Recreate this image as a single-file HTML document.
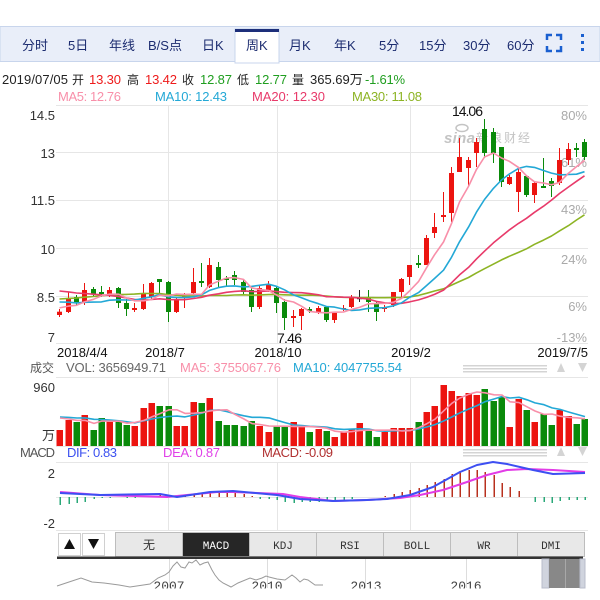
<!DOCTYPE html>
<html><head><meta charset="utf-8">
<style>
html,body{margin:0;padding:0;background:#fff;width:600px;height:600px;overflow:hidden}
svg{display:block}
text{font-family:"Liberation Sans","Noto Sans CJK SC",sans-serif}
.mono{font-family:"Liberation Mono","Noto Sans CJK SC",monospace}
</style></head><body>
<svg id="s" width="600" height="600" viewBox="0 0 600 600" xmlns="http://www.w3.org/2000/svg">
<!-- Tab bar -->
<rect x="0" y="26.5" width="600" height="35" fill="#e9eef9" stroke="#c8d5ec" stroke-width="1"/>
<rect x="235" y="29" width="44" height="34" fill="#ffffff" stroke="#c8d5ec" stroke-width="1"/>
<rect x="235" y="29" width="44" height="3" fill="#1d2f7a"/>
<g font-size="13" fill="#1c2c70">
<text x="22" y="50">分时</text>
<text x="68" y="50">5日</text>
<text x="109" y="50">年线</text>
<text x="148" y="50">B/S点</text>
<text x="202" y="50">日K</text>
<text x="246" y="50">周K</text>
<text x="289" y="50">月K</text>
<text x="334" y="50">年K</text>
<text x="379" y="50">5分</text>
<text x="419" y="50">15分</text>
<text x="463" y="50">30分</text>
<text x="507" y="50">60分</text>
</g>
<g stroke="#1a5fd0" stroke-width="2.5" fill="none">
<polyline points="547,40 547,35 552,35"/>
<polyline points="556,35 561,35 561,40"/>
<polyline points="547,46 547,51 552,51"/>
<polyline points="556,51 561,51 561,46"/>
</g>
<g fill="#1a5fd0"><rect x="581" y="34" width="3" height="3"/><rect x="581" y="41" width="3" height="3"/><rect x="581" y="48" width="3" height="3"/></g>

<!-- info line -->
<g font-size="13">
<text x="2" y="84" fill="#222" textLength="66">2019/07/05</text>
<text x="72" y="84" fill="#222" font-size="12">开</text>
<text x="89" y="84" fill="#ee1b1b" textLength="32">13.30</text>
<text x="127" y="84" fill="#222" font-size="12">高</text>
<text x="145" y="84" fill="#ee1b1b" textLength="32">13.42</text>
<text x="182" y="84" fill="#222" font-size="12">收</text>
<text x="200" y="84" fill="#1f9e1f" textLength="32">12.87</text>
<text x="237" y="84" fill="#222" font-size="12">低</text>
<text x="255" y="84" fill="#1f9e1f" textLength="32">12.77</text>
<text x="292" y="84" fill="#222" font-size="12">量</text>
<text x="310" y="84" fill="#222">365.69万</text>
<text x="365" y="84" fill="#1f9e1f" textLength="40">-1.61%</text>
</g>
<g font-size="13">
<text x="58" y="101" fill="#f88fa9" textLength="63">MA5: 12.76</text>
<text x="155" y="101" fill="#23a8d6" textLength="72">MA10: 12.43</text>
<text x="252" y="101" fill="#e83a6a" textLength="73">MA20: 12.30</text>
<text x="352" y="101" fill="#8db424" textLength="70">MA30: 11.08</text>
</g>

<!-- main grid -->
<g stroke="#e6e6e6" stroke-width="1">
<line x1="56" y1="105.5" x2="588" y2="105.5"/>
<line x1="56" y1="152.5" x2="588" y2="152.5"/>
<line x1="56" y1="200.5" x2="588" y2="200.5"/>
<line x1="56" y1="248.5" x2="588" y2="248.5"/>
<line x1="56" y1="296.5" x2="588" y2="296.5"/>
<line x1="56" y1="343.5" x2="588" y2="343.5"/>
<line x1="168.5" y1="105" x2="168.5" y2="343"/>
<line x1="277.5" y1="105" x2="277.5" y2="343"/>
<line x1="410.5" y1="105" x2="410.5" y2="343"/>
<line x1="56" y1="377.5" x2="588" y2="377.5"/>
<line x1="56" y1="446.5" x2="588" y2="446.5"/>
<line x1="168.5" y1="378" x2="168.5" y2="446"/>
<line x1="277.5" y1="378" x2="277.5" y2="446"/>
<line x1="410.5" y1="378" x2="410.5" y2="446"/>
<line x1="56" y1="462.5" x2="588" y2="462.5"/>
<line x1="56" y1="497.5" x2="588" y2="497.5"/>
<line x1="56" y1="530.5" x2="588" y2="530.5"/>
<line x1="168.5" y1="462" x2="168.5" y2="530"/>
<line x1="277.5" y1="462" x2="277.5" y2="530"/>
<line x1="410.5" y1="462" x2="410.5" y2="530"/>
</g>
<g font-size="13" fill="#333" text-anchor="end">
<text x="55" y="120">14.5</text>
<text x="55" y="158">13</text>
<text x="55" y="205">11.5</text>
<text x="55" y="254">10</text>
<text x="55" y="302">8.5</text>
<text x="55" y="342">7</text>
</g>
<g font-size="13" fill="#aaaaaa" text-anchor="end">
<text x="587" y="120">80%</text>
<text x="587" y="167">61%</text>
<text x="587" y="214">43%</text>
<text x="587" y="264">24%</text>
<text x="587" y="311">6%</text>
<text x="587" y="342">-13%</text>
</g>
<!-- watermark -->
<g fill="#c4c4c4">
<ellipse cx="462" cy="128" rx="6" ry="3.5" fill="none" stroke="#c4c4c4" stroke-width="1.5"/>
<text x="444" y="143" font-size="15" font-weight="bold" font-style="italic" textLength="31">sina</text>
<text x="476" y="142" font-size="12" textLength="54">新浪财经</text>
</g>
<g id="main"></g>
<text x="452" y="116" font-size="14" fill="#111" textLength="31">14.06</text>
<text x="277" y="343" font-size="14" fill="#111" textLength="25">7.46</text>

<!-- dates -->
<g font-size="13" fill="#111">
<text x="57" y="357">2018/4/4</text>
<text x="165" y="357" text-anchor="middle">2018/7</text>
<text x="278" y="357" text-anchor="middle">2018/10</text>
<text x="411" y="357" text-anchor="middle">2019/2</text>
<text x="588" y="357" text-anchor="end">2019/7/5</text>
</g>

<!-- VOL row -->
<g font-size="13">
<text x="30" y="372" fill="#555" font-size="12">成交</text>
<text x="66" y="372" fill="#666" textLength="100">VOL: 3656949.71</text>
<text x="180" y="372" fill="#f88fa9" textLength="101">MA5: 3755067.76</text>
<text x="293" y="372" fill="#23a8d6" textLength="109">MA10: 4047755.54</text>
</g>
<g font-size="13" fill="#333" text-anchor="end">
<text x="55" y="392">960</text>
<text x="55" y="440">万</text>
</g>
<g id="vol"></g>
<!-- right arrows -->
<g fill="#d4d4d4">
<rect x="463" y="365" width="84" height="1.5"/><rect x="463" y="368" width="84" height="1.5"/><rect x="463" y="371" width="84" height="1.5"/>
<polygon points="557,372 561,363 565,372"/><polygon points="578,363 587,363 582.5,372"/>
<rect x="463" y="449" width="84" height="1.5"/><rect x="463" y="452" width="84" height="1.5"/><rect x="463" y="455" width="84" height="1.5"/>
<polygon points="557,456 561,447 565,456"/><polygon points="578,447 587,447 582.5,456"/>
</g>

<!-- MACD row -->
<g font-size="13">
<text x="20" y="457" fill="#555" textLength="35">MACD</text>
<text x="67" y="457" fill="#3b50f0" textLength="50">DIF: 0.83</text>
<text x="163" y="457" fill="#e040e8" textLength="57">DEA: 0.87</text>
<text x="262" y="457" fill="#b03030" textLength="71">MACD: -0.09</text>
</g>
<g font-size="13" fill="#333" text-anchor="end">
<text x="55" y="478">2</text>
<text x="55" y="528">-2</text>
</g>
<g id="macd"></g>

<!-- indicator tabs -->
<rect x="58.5" y="533.5" width="22" height="22" fill="#fff" stroke="#d0d0d0"/>
<rect x="82.5" y="533.5" width="22" height="22" fill="#fff" stroke="#d0d0d0"/>
<polygon points="64,549 69.5,539 75,549" fill="#111"/>
<polygon points="88,539 99,539 93.5,549" fill="#111"/>
<g stroke="#bdbdbd" stroke-width="1">
<rect x="115.5" y="532.5" width="67" height="24" fill="#e8e8e8"/>
<rect x="182.5" y="532.5" width="67" height="24" fill="#262626"/>
<rect x="249.5" y="532.5" width="67" height="24" fill="#e8e8e8"/>
<rect x="316.5" y="532.5" width="67" height="24" fill="#e8e8e8"/>
<rect x="383.5" y="532.5" width="67" height="24" fill="#e8e8e8"/>
<rect x="450.5" y="532.5" width="67" height="24" fill="#e8e8e8"/>
<rect x="517.5" y="532.5" width="67" height="24" fill="#e8e8e8"/>
</g>
<g font-size="11" fill="#333" text-anchor="middle" class="mono">
<text x="149" y="549" font-size="12">无</text>
<text x="216" y="549" fill="#fff" class="mono">MACD</text>
<text x="283" y="549" class="mono">KDJ</text>
<text x="350" y="549" class="mono">RSI</text>
<text x="417" y="549" class="mono">BOLL</text>
<text x="484" y="549" class="mono">WR</text>
<text x="551" y="549" class="mono">DMI</text>
</g>
<rect x="57" y="556.5" width="526" height="2.5" fill="#333"/>
<!-- mini chart -->
<g stroke="#dddddd" stroke-width="1">
<line x1="169.5" y1="559" x2="169.5" y2="588"/>
<line x1="267.5" y1="559" x2="267.5" y2="588"/>
<line x1="365.5" y1="559" x2="365.5" y2="588"/>
<line x1="466.5" y1="559" x2="466.5" y2="588"/>
</g>
<polyline fill="none" stroke="#9a9a9a" stroke-width="1" points="57,586 69,582 81,578 92,582 104,583 119,585 130,587 150,584 158,578 165,575 169,572 173,566 177,562 181,567 185,568 189,562 192,563 196,560 200,565 204,563 208,562 212,570 215,575 219,580 223,583 231,587 238,583 250,578 256,580 262,578 266,576 269,577 277,579 285,580 292,575 296,578 300,582 304,579 308,580 315,585 323,585"/>
<g font-size="13" fill="#444" text-anchor="middle" class="mono">
<text x="169" y="590" class="mono">2007</text>
<text x="267" y="590" class="mono">2010</text>
<text x="366" y="590" class="mono">2013</text>
<text x="466" y="590" class="mono">2016</text>
</g>
<rect x="542" y="559" width="7" height="29" fill="#d0d4de" stroke="#b8bccb"/>
<rect x="549" y="559" width="31" height="29" fill="#888"/>
<line x1="565.5" y1="559" x2="565.5" y2="588" stroke="#a8a8a8"/>
<rect x="580" y="559" width="5" height="29" fill="#d0d4de" stroke="#b8bccb"/>
<rect x="0" y="588.5" width="600" height="12" fill="#fff"/>
</svg>
<script>
(function(){
var NS="http://www.w3.org/2000/svg";
function el(parent,tag,attrs){var e=document.createElementNS(NS,tag);for(var k in attrs)e.setAttribute(k,attrs[k]);parent.appendChild(e);return e;}
var D=[
['R',311.7,315,309,317],['R',298,312,292,313],['G',297,303,295,305],['R',290,303,283,305],
['G',289,294,287,297],['G',292,294,286,297],['R',290,295,287,297],['G',288,303,287,308],
['G',303,309,299,316],['R',308,310,303,312],['R',294,309,284,310],['R',283,297,282,299],
['G',279,282,279,293],['G',282,312,281,322],['R',299,312,298,313],['R',296,298,293,308],
['R',282,293,268,295],['G',281,283,263,287],['R',265,287,258,288],['G',267,280,262,287],
['G',278,280,276,287],['G',275,280,271,285],['G',282,292,280,294],['G',290,307,287,312],
['R',288,307,286,309],['R',285,290,281,292],['G',288,303,287,313],['G',302,318,299,330],
['R',316,318,310,327],['R',309,316,308,330],['G',309,311,307,313],['R',308,313,306,314],
['G',307,320,306,322],['R',313,320,312,323],['R',308,309,305,311],['R',298,307,295,308],
['K',298,299,290,302],['G',298,302,290,312],['G',303,312,302,321],['R',307,309,305,312],
['R',292,305,292,307],['R',279,292,278,297],['R',265,277,265,285],['G',263,265,255,268],
['R',238,265,235,265],['R',227,233,213,238],['R',215,217,192,222],['R',173,213,167,222],
['R',157,172,138,172],['R',160,168,157,187],['R',142,153,138,167],['G',129,153,119,158],
['G',132,153,128,163],['G',147,182,147,187],['R',177,184,175,185],['R',172,192,168,212],
['G',176,195,175,197],['R',183,195,182,203],['G',186,188,158,188],['G',181,186,178,197],
['R',160,183,148,185],['R',149,160,143,165],['G',148,150,143,157],['G',142,157,139,160]];
var V=[430,420,422,415,430,418,421,422,425,426,408,403,406,406,426,426,402,403,398,421,425,425,426,421,426,432,426,426,422,
427,432,429,431,437,432,429,423,430,437,432,428,428,428,422,412,406,385,391,396,393,395,389,401,397,427,399,410,422,414,425,410,416,424,419];
var H=[-8,-7,-6,-5,-2,-1,-1,0,-1,-1,0,1,2,1,0,1,2,4,5,4,4,4,3,1,-2,-2,-3,-5,-6,-5,-5,-5,-4,-4,-3,-2,0,0,0,1,3,5,7,9,12,15,18,23,26,27,27,25,22,14,10,6,0,-5,-5,-6,-4,-3,-3,-3];
var RED="#ec1410",GRN="#0a8a0a";
function cx(i){return Math.round(59.3+8.333*i);}
var closes=D.map(function(d){return d[0]=='G'?d[2]:d[1];});
var prior=[];
for(var k=0;k<10;k++)prior.push(315);
for(var k=0;k<10;k++)prior.push(280);
for(var k=0;k<5;k++)prior.push(296);
for(var k=0;k<4;k++)prior.push(307);
var all=prior.concat(closes);
var P=prior.length;
function ma(arr,p,n,i){var s=0;for(var j=i-n+1;j<=i;j++)s+=arr[j+p];return s/n;}
var main=document.getElementById('main');
var maDefs=[[30,'#8db424'],[20,'#e83a6a'],[10,'#23a8d6'],[5,'#f88fa9']];
var gl=el(main,'g',{});
for(var i=0;i<D.length;i++){
 var d=D[i],x=cx(i),c=d[0]=='R'?RED:(d[0]=='G'?GRN:'#222');
 el(gl,'rect',{x:x,y:d[3],width:1,height:Math.max(1,d[4]-d[3]),fill:c});
 el(gl,'rect',{x:x-2,y:d[1],width:5,height:Math.max(1.2,d[2]-d[1]),fill:c});
}
maDefs.forEach(function(m){
 var pts=[];for(var i=0;i<D.length;i++){pts.push((cx(i)+0.5)+','+ma(all,P,m[0],i).toFixed(1));}
 el(main,'polyline',{points:pts.join(' '),fill:'none',stroke:m[1],'stroke-width':1.6,'stroke-linejoin':'round'});
});
var vol=document.getElementById('vol');
for(var i=0;i<V.length;i++){
 var c=D[i][0]=='G'?GRN:RED;
 el(vol,'rect',{x:cx(i)-2.5,y:V[i],width:6.5,height:446-V[i],fill:c});
}
var vp=[416,416,416,416,416,415,415,415,415];
var vall=vp.concat(V);
[[10,'#23a8d6'],[5,'#f88fa9']].forEach(function(m){
 var pts=[];for(var i=0;i<V.length;i++){pts.push((cx(i)+1)+','+ma(vall,vp.length,m[0],i).toFixed(1));}
 el(vol,'polyline',{points:pts.join(' '),fill:'none',stroke:m[1],'stroke-width':1.6,'stroke-linejoin':'round'});
});
var mg=document.getElementById('macd');
for(var i=0;i<H.length;i++){
 if(H[i]==0)continue;
 var h=H[i];
 el(mg,'rect',{x:cx(i)+0.5,y:h>0?497-h:497,width:1.5,height:Math.abs(h),fill:h>0?'#b8301e':'#2aa878'});
}
var dea="60,492 100,495 167,497 217,492 233,492 283,494 300,497 333,501 367,500 400,498 420,495 443,490 467,482 487,475 507,470 527,469 553,470 585,472";
var dif="60,493 100,495 160,494 177,497 210,492 233,491 277,495 300,499 333,501 367,500 387,499 410,495 433,487 460,472 477,465 493,462 507,464 533,470 553,474 585,473";
el(mg,'polyline',{points:dea,fill:'none',stroke:'#e23ce6','stroke-width':2,'stroke-linejoin':'round'});
el(mg,'polyline',{points:dif,fill:'none',stroke:'#3d4ff2','stroke-width':2,'stroke-linejoin':'round'});
})();
</script>
</body></html>
